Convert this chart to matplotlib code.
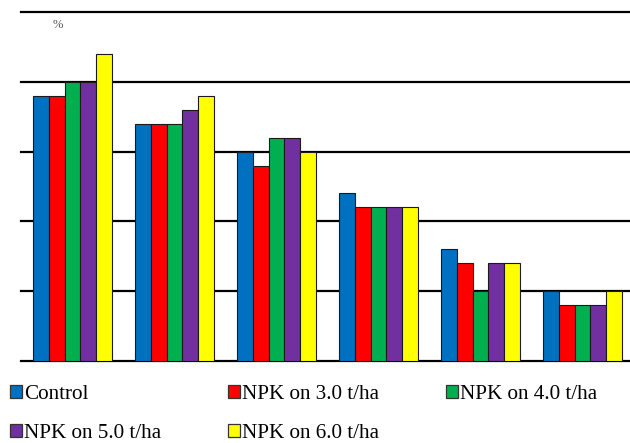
import matplotlib
matplotlib.use("Agg")
import matplotlib.pyplot as plt
import numpy as np
from matplotlib.patches import Patch

# Values per treatment for the six groups (percent)
groups = ["1", "2", "3", "4", "5", "6"]
series_names = ["Control", "NPK on 3.0 t/ha", "NPK on 4.0 t/ha",
                "NPK on 5.0 t/ha", "NPK on 6.0 t/ha"]
control = [19, 17, 15, 12, 8, 5]
npk_3 = [19, 17, 14, 11, 7, 4]
npk_4 = [20, 17, 16, 11, 5, 4]
npk_5 = [20, 18, 16, 11, 7, 4]
npk_6 = [22, 19, 15, 11, 7, 5]
y_ticks = [0, 5, 10, 15, 20, 25]

colors = ["#0070C0", "#FF0000", "#00B050", "#7030A0", "#FFFF00"]
series = [control, npk_3, npk_4, npk_5, npk_6]

plt.rcParams["font.family"] = ["Liberation Serif", "DejaVu Serif"]

W, H = 630, 443
fig = plt.figure(figsize=(W / 100, H / 100), dpi=100)
ax = fig.add_axes([21.5 / W, (H - 361) / H, 612 / W, 349 / H])

x = np.arange(len(groups))
bw = 0.155
handles = []
for i, (vals, c, name) in enumerate(zip(series, colors, series_names)):
    ax.bar(x + (i - 2) * bw, vals, width=bw, color=c, edgecolor="#1a1a1a",
           linewidth=0.8, zorder=3)
    handles.append(Patch(facecolor=c, edgecolor="#333333", linewidth=0.9, label=name))

for t in y_ticks:
    ax.axhline(t, color="black", linewidth=1.6, zorder=1, clip_on=False)

ax.set_xlim(-0.5, len(groups) - 0.5)
ax.set_ylim(0, 25)
ax.set_xticks([])
ax.set_yticks([])
for s in ax.spines.values():
    s.set_visible(False)

fig.text(58 / W, 1 - 25 / H, "%", fontsize=9, color="#555555",
         ha="center", va="center")

order = [0, 3, 1, 4, 2]
fig.legend([handles[i] for i in order], [series_names[i] for i in order],
           ncol=3, loc="upper left", bbox_to_anchor=(10 / W, 1 - 385 / H),
           frameon=False, fontsize=15.2, handlelength=0.55, handleheight=0.55,
           handletextpad=0.12, columnspacing=3.17, labelspacing=0.93,
           borderpad=0, borderaxespad=0)

fig.savefig("out.png", dpi=100)
